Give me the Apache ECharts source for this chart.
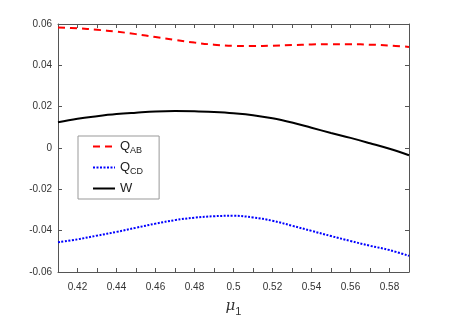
<!DOCTYPE html>
<html>
<head>
<meta charset="utf-8">
<script src="https://cdn.jsdelivr.net/npm/echarts@6/dist/echarts.min.js"></script>
<style>
  html, body { margin: 0; padding: 0; background: #fff; }
  #chart { width: 452px; height: 322px; }
</style>
</head>
<body>
<div id="chart"></div>
<script>
const mu = [0.41, 0.42, 0.43, 0.44, 0.45, 0.46, 0.47, 0.48, 0.49, 0.50,
  0.51, 0.52, 0.53, 0.54, 0.55, 0.56, 0.57, 0.58, 0.59]
const qAB = [0.0583, 0.0579, 0.0572, 0.0563, 0.0551, 0.0537, 0.0523, 0.0510, 0.0500, 0.0494,
  0.0493, 0.0495, 0.0498, 0.0501, 0.0502, 0.0502, 0.0500, 0.0496, 0.0489]
const qCD = [-0.0456, -0.0442, -0.0424, -0.0406, -0.0386, -0.0366, -0.0349, -0.0337, -0.0330, -0.0328,
  -0.0336, -0.0352, -0.0376, -0.0401, -0.0426, -0.0450, -0.0473, -0.0494, -0.0522]
const w = [0.0125, 0.0142, 0.0154, 0.0164, 0.0171, 0.0177, 0.0179, 0.0178, 0.0174, 0.0168,
  0.0159, 0.0144, 0.0123, 0.0098, 0.0073, 0.0049, 0.0023, -0.0004, -0.0035]
const xTicks = ['0.42', '0.44', '0.46', '0.48', '0.5', '0.52', '0.54', '0.56', '0.58']
const yTicks = ['-0.06', '-0.04', '-0.02', '0', '0.02', '0.04', '0.06']

const chart = echarts.init(document.getElementById('chart'))
const axisColor = '#555'
const font = 'Liberation Sans, Arial, sans-serif'

function pairs(ys) {
  return mu.map((x, i) => [x, ys[i]])
}
function isXTick(v) {
  return xTicks.indexOf(String(+(+v).toFixed(2))) >= 0
}

const baseX = {
  type: 'value',
  min: 0.41,
  max: 0.59,
  interval: 0.01,
  axisLine: { show: true, onZero: false, lineStyle: { color: axisColor, width: 1 } },
  axisTick: {
    show: true, inside: true, length: 4, lineStyle: { color: axisColor },
    interval: (i, v) => isXTick(v)
  },
  splitLine: { show: false }
}
const baseY = {
  type: 'value',
  min: -0.06,
  max: 0.06,
  interval: 0.02,
  axisLine: { show: true, onZero: false, lineStyle: { color: axisColor, width: 1 } },
  axisTick: { show: true, inside: true, length: 4, lineStyle: { color: axisColor } },
  splitLine: { show: false }
}

chart.setOption({
  animation: false,
  backgroundColor: '#fff',
  textStyle: { fontFamily: font },
  grid: { left: 58, right: 43, top: 24, bottom: 45, containLabel: false },
  xAxis: [
    Object.assign({}, baseX, {
      position: 'bottom',
      axisLabel: {
        color: '#333',
        fontSize: 10,
        margin: 10,
        formatter: v => (isXTick(v) ? String(+v.toFixed(2)) : '')
      },
      name: '{mu|\u03bc}{sub|1}',
      nameLocation: 'middle',
      nameGap: 24,
      nameTextStyle: {
        rich: {
          mu: { fontSize: 15, fontStyle: 'italic', color: '#333', fontFamily: 'DejaVu Serif, serif' },
          sub: { fontSize: 11, color: '#333', padding: [10, 0, 0, 0] }
        }
      }
    }),
    Object.assign({}, baseX, {
      position: 'top',
      axisLabel: { show: false }
    })
  ],
  yAxis: [
    Object.assign({}, baseY, {
      position: 'left',
      axisLabel: {
        color: '#333',
        fontSize: 10,
        margin: 6,
        formatter: v => {
          const s = String(+v.toFixed(2))
          return yTicks.indexOf(s) >= 0 ? s : ''
        }
      }
    }),
    Object.assign({}, baseY, {
      position: 'right',
      axisLabel: { show: false }
    })
  ],
  legend: {
    orient: 'vertical',
    left: 78,
    top: 136,
    padding: [4, 16, 4, 14],
    itemGap: 6,
    itemWidth: 22,
    itemHeight: 14,
    backgroundColor: '#fff',
    borderColor: '#999',
    borderWidth: 1,
    borderRadius: 0,
    itemStyle: { opacity: 0 },
    data: ['Q_AB', 'Q_CD', 'W'],
    formatter: name => {
      if (name === 'W') return '{m|W}'
      return '{m|Q}{sub|' + name.split('_')[1] + '}'
    },
    textStyle: {
      rich: {
        m: { fontSize: 13, color: '#222' },
        sub: { fontSize: 9, color: '#222', padding: [8, 0, 0, 0] }
      }
    }
  },
  series: [
    {
      name: 'Q_AB',
      type: 'line',
      data: pairs(qAB),
      smooth: 0.4,
      showSymbol: false,
      symbol: 'none',
      lineStyle: { color: '#ff0000', width: 2, type: [7, 5] },
      itemStyle: { color: '#ff0000' }
    },
    {
      name: 'Q_CD',
      type: 'line',
      data: pairs(qCD),
      smooth: 0.4,
      showSymbol: false,
      symbol: 'none',
      lineStyle: { color: '#0000ff', width: 2, type: [2, 1.5] },
      itemStyle: { color: '#0000ff' }
    },
    {
      name: 'W',
      type: 'line',
      data: pairs(w),
      smooth: 0.4,
      showSymbol: false,
      symbol: 'none',
      lineStyle: { color: '#000000', width: 2 },
      itemStyle: { color: '#000000' }
    }
  ]
})
</script>
</body>
</html>
